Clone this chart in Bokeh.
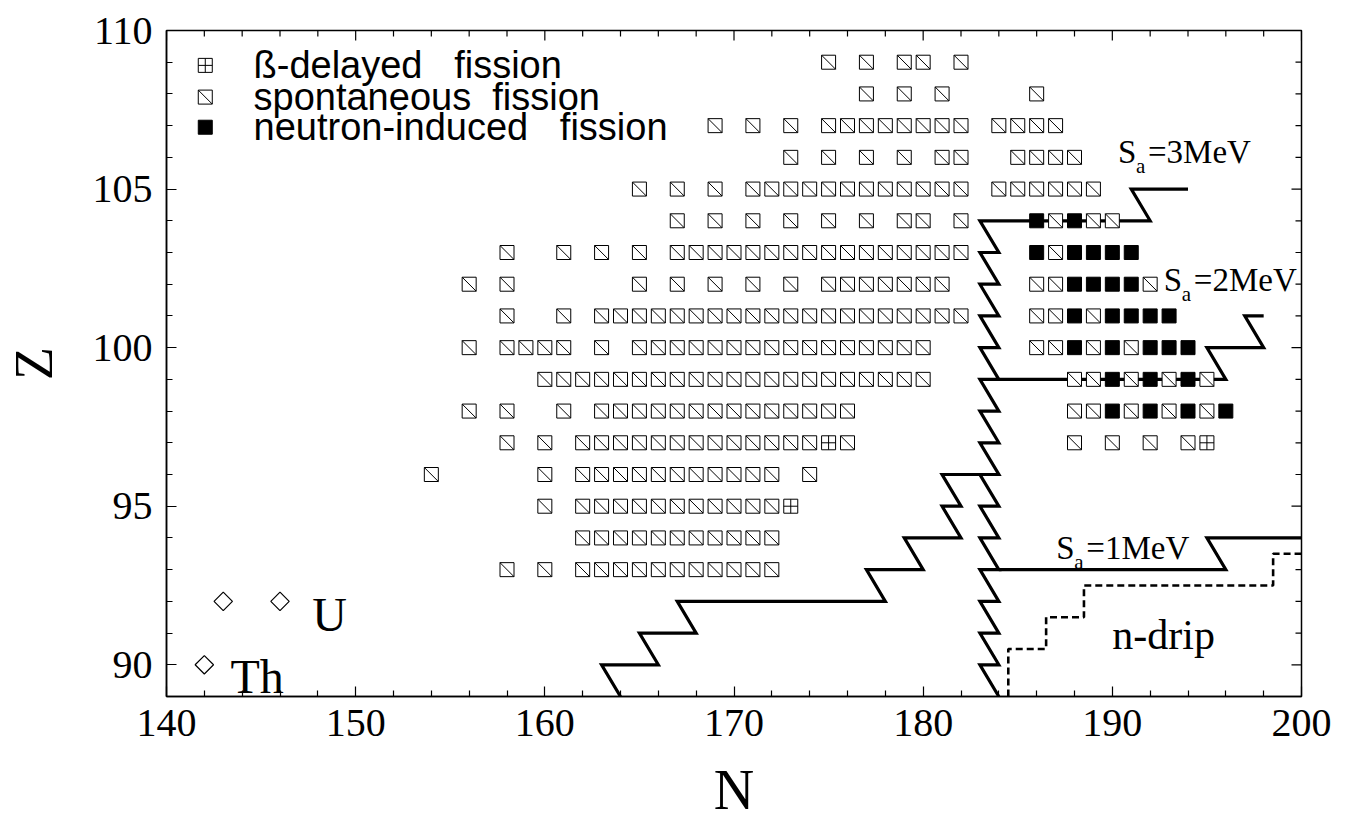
import numpy as np
from bokeh.plotting import figure
from bokeh.models import LinearAxis, Range1d, FixedTicker, Label
from bokeh.embed import file_html
from bokeh.resources import INLINE

# ---------------- data: nuclei (N values per row Z) ----------------
# spontaneous fission (hatched squares)
sf_109 = [175, 177, 179, 180, 182]
sf_108 = [177, 179, 181, 186]
sf_107 = [169, 171, 173, 175, 176, 177, 178, 179, 180, 181, 182, 184, 185, 186, 187]
sf_106 = [173, 175, 177, 179, 181, 182, 185, 186, 187, 188]
sf_105 = [165, 167, 169, 171, 172, 173, 174, 175, 176, 177, 178, 179, 180, 181, 182,
          184, 185, 186, 187, 188, 189]
sf_104 = [167, 169, 171, 173, 175, 177, 179, 180, 182, 187, 189, 190]
sf_103 = [158, 161, 163, 165, 167, 168, 169, 170, 171, 172, 173, 174, 175, 176, 177,
          178, 179, 180, 181, 182, 187]
sf_102 = [156, 158, 165, 167, 169, 171, 173, 175, 176, 177, 178, 179, 180, 181,
          186, 187, 192]
sf_101 = [158, 161, 163, 164, 165, 166, 167, 168, 169, 170, 171, 172, 173, 174, 175,
          176, 177, 178, 179, 180, 181, 182, 186, 187, 189]
sf_100 = [156, 158, 159, 160, 161, 163, 165, 166, 167, 168, 169, 170, 171, 172, 173,
          174, 175, 176, 177, 178, 179, 180, 186, 187, 189, 191]
sf_99 = [160, 161, 162, 163, 164, 165, 166, 167, 168, 169, 170, 171, 172, 173, 174,
         175, 176, 177, 178, 179, 180, 188, 189, 191, 193, 195]
sf_98 = [156, 158, 161, 163, 164, 165, 166, 167, 168, 169, 170, 171, 172, 173, 174,
         175, 176, 188, 189, 191, 193, 195]
sf_97 = [158, 160, 162, 163, 164, 165, 166, 167, 168, 169, 170, 171, 172, 173, 174,
         176, 188, 190, 192, 194]
sf_96 = [154, 160, 162, 163, 164, 165, 166, 167, 168, 169, 170, 171, 172, 174]
sf_95 = [160, 162, 163, 164, 165, 166, 167, 168, 169, 170, 171, 172]
sf_94 = [162, 163, 164, 165, 166, 167, 168, 169, 170, 171, 172]
sf_93 = [158, 160, 162, 163, 164, 165, 166, 167, 168, 169, 170, 171, 172]

# neutron-induced fission (filled squares)
nif_104 = [186, 188]
nif_103 = [186, 188, 189, 190, 191]
nif_102 = [188, 189, 190, 191]
nif_101 = [188, 190, 191, 192, 193]
nif_100 = [188, 190, 192, 193, 194]
nif_99 = [190, 192, 194]
nif_98 = [190, 192, 194, 196]

# beta-delayed fission (crossed squares)
bdf_N = [175, 173, 195]
bdf_Z = [97, 95, 97]

# U / Th (diamonds)
act_N = [143, 146, 142]
act_Z = [92, 92, 90]

# ---------------- lines ----------------
sa3_N = [194, 191, 192, 183, 184, 183, 184, 183, 184, 183, 184, 183, 184, 183, 184, 183,
         184, 183, 184, 183, 184, 183, 184, 183, 184, 183, 184, 183, 184, 183, 184, 183, 184]
sa3_Z = [105, 105, 104, 104, 103, 103, 102, 102, 101, 101, 100, 100, 99, 99, 98, 98,
         97, 97, 96, 96, 95, 95, 94, 94, 93, 93, 92, 92, 91, 91, 90, 90, 89]
sa2_N = [198, 197, 198, 195, 196, 184]
sa2_Z = [101, 101, 100, 100, 99, 99]
sa1_N = [200, 195, 196, 184]
sa1_Z = [94, 94, 93, 93]
low_N = [184, 181, 182, 181, 182, 179, 180, 177, 178, 167, 168, 165, 166, 163, 164]
low_Z = [96, 96, 95, 95, 94, 94, 93, 93, 92, 92, 91, 91, 90, 90, 89]
drip_N = [184.5, 184.5, 186.5, 186.5, 188.5, 188.5, 198.5, 198.5, 200]
drip_Z = [89, 90.5, 90.5, 91.5, 91.5, 92.5, 92.5, 93.5, 93.5]

x_ticks = [140, 150, 160, 170, 180, 190, 200]
x_minor = [142, 144, 146, 148, 152, 154, 156, 158, 162, 164, 166, 168, 172, 174, 176, 178,
           182, 184, 186, 188, 192, 194, 196, 198]
y_ticks = [90, 95, 100, 105, 110]
y_minor = [89, 91, 92, 93, 94, 96, 97, 98, 99, 101, 102, 103, 104, 106, 107, 108, 109]

sf_rows = {109: sf_109, 108: sf_108, 107: sf_107, 106: sf_106, 105: sf_105, 104: sf_104,
           103: sf_103, 102: sf_102, 101: sf_101, 100: sf_100, 99: sf_99, 98: sf_98,
           97: sf_97, 96: sf_96, 95: sf_95, 94: sf_94, 93: sf_93}
nif_rows = {104: nif_104, 103: nif_103, 102: nif_102, 101: nif_101, 100: nif_100,
            99: nif_99, 98: nif_98}

sf_N, sf_Z = [], []
for z, ns in sf_rows.items():
    sf_N += ns
    sf_Z += [z] * len(ns)
nif_N, nif_Z = [], []
for z, ns in nif_rows.items():
    nif_N += ns
    nif_Z += [z] * len(ns)

SERIF = "Liberation Serif"
SANS = "Liberation Sans"

p = figure(width=1346, height=823, x_range=Range1d(140, 200), y_range=Range1d(89, 110),
           output_backend="svg", toolbar_location=None,
           min_border_left=164, min_border_right=45, min_border_top=30, min_border_bottom=127,
           x_axis_location=None, y_axis_location=None)
p.grid.visible = False
p.outline_line_color = "black"
p.outline_line_width = 1.5
p.background_fill_color = "white"
p.border_fill_color = "white"

xt = FixedTicker(ticks=x_ticks, minor_ticks=x_minor)
yt = FixedTicker(ticks=y_ticks, minor_ticks=y_minor)


def style(ax, label_size):
    ax.major_tick_in = 10
    ax.major_tick_out = 0
    ax.minor_tick_in = 6
    ax.minor_tick_out = 0
    ax.axis_line_color = "black"
    ax.axis_line_width = 1.5
    ax.major_tick_line_color = "black"
    ax.minor_tick_line_color = "black"
    ax.major_tick_line_width = 1.2
    ax.minor_tick_line_width = 1.2
    ax.major_label_text_font = SERIF
    ax.major_label_text_font_size = "40px"
    ax.major_label_text_color = "black"
    ax.axis_label_text_font = SERIF
    ax.axis_label_text_font_size = label_size
    ax.axis_label_text_font_style = "normal"
    ax.axis_label_text_color = "black"


bx = LinearAxis(ticker=xt, axis_label="N")
style(bx, "56px")
bx.major_label_standoff = 13
bx.axis_label_standoff = 20
bx.axis_label_text_line_height = 0.7
p.add_layout(bx, "below")
lx = LinearAxis(ticker=yt, axis_label="Z")
style(lx, "54px")
lx.major_label_standoff = 14
lx.axis_label_standoff = 26
p.add_layout(lx, "left")

# ticks on the top and right frame edges
p.ray(x=x_ticks, y=110, length=10, length_units="screen", angle=-np.pi / 2,
      line_color="black", line_width=1.2)
p.ray(x=x_minor, y=110, length=6, length_units="screen", angle=-np.pi / 2,
      line_color="black", line_width=1.2)
p.ray(x=200, y=y_ticks, length=10, length_units="screen", angle=np.pi,
      line_color="black", line_width=1.2)
p.ray(x=200, y=y_minor, length=6, length_units="screen", angle=np.pi,
      line_color="black", line_width=1.2)

# lines
for xs, ys in [(sa3_N, sa3_Z), (sa2_N, sa2_Z), (sa1_N, sa1_Z), (low_N, low_Z)]:
    p.line(xs, ys, line_color="black", line_width=3.2, line_join="miter")
p.line(drip_N, drip_Z, line_color="black", line_width=2.6, line_dash="7 4")

SQ = 14
# spontaneous fission: square + diagonal
p.scatter(sf_N, sf_Z, marker="square", size=SQ, fill_color="white", line_color="black", line_width=1)
p.scatter(sf_N, sf_Z, marker="dash", size=SQ * 1.414, angle=-np.pi / 4, line_color="black", line_width=1)
# neutron-induced
p.scatter(nif_N, nif_Z, marker="square", size=SQ, fill_color="black", line_color="black", line_width=1)
# beta-delayed
p.scatter(bdf_N, bdf_Z, marker="square_cross", size=SQ, fill_color="white", line_color="black", line_width=1)
# U / Th
p.scatter(act_N, act_Z, marker="square", size=13, angle=np.pi / 4, fill_color="white",
          line_color="black", line_width=1.2)

# legend (drawn inside plot)
leg_N = 142.05
p.scatter([leg_N], [108.9], marker="square_cross", size=SQ, fill_color="white", line_color="black")
p.scatter([leg_N], [107.9], marker="square", size=SQ, fill_color="white", line_color="black")
p.scatter([leg_N], [107.9], marker="dash", size=SQ * 1.414, angle=-np.pi / 4, line_color="black")
p.scatter([leg_N], [106.95], marker="square", size=SQ, fill_color="black", line_color="black")
nb = "\u00a0"
for z, t in [(108.9, "ß-delayed" + nb * 3 + "fission"),
             (107.9, "spontaneous" + nb * 2 + "fission"),
             (106.95, "neutron-induced" + nb * 3 + "fission")]:
    p.add_layout(Label(x=144.6, y=z, text=t, text_font=SANS, text_font_size="38px",
                       text_baseline="middle", text_align="left", text_color="black"))


def sa_label(x, y, num):
    p.add_layout(Label(x=x, y=y, text="S", text_font=SERIF, text_font_size="33px",
                       text_baseline="alphabetic", text_color="black"))
    p.add_layout(Label(x=x, y=y, x_offset=18, y_offset=-14, text="a", text_font=SERIF,
                       text_font_size="21px", text_baseline="alphabetic", text_color="black"))
    p.add_layout(Label(x=x, y=y, x_offset=30, text="=" + num + "MeV", text_font=SERIF,
                       text_font_size="33px", text_baseline="alphabetic", text_color="black"))


sa_label(190.3, 106.16, "3")
sa_label(192.72, 102.14, "2")
sa_label(187.04, 93.68, "1")
p.add_layout(Label(x=190.0, y=90.95, text="n-drip", text_font=SERIF, text_font_size="42px",
                   text_baseline="alphabetic", text_color="black"))
p.add_layout(Label(x=147.7, y=91.58, text="U", text_font=SERIF, text_font_size="48px",
                   text_baseline="alphabetic", text_color="black"))
p.add_layout(Label(x=143.38, y=89.63, text="Th", text_font=SERIF, text_font_size="48px",
                   text_baseline="alphabetic", text_color="black"))

open("out.html", "w").write(file_html(p, INLINE))
